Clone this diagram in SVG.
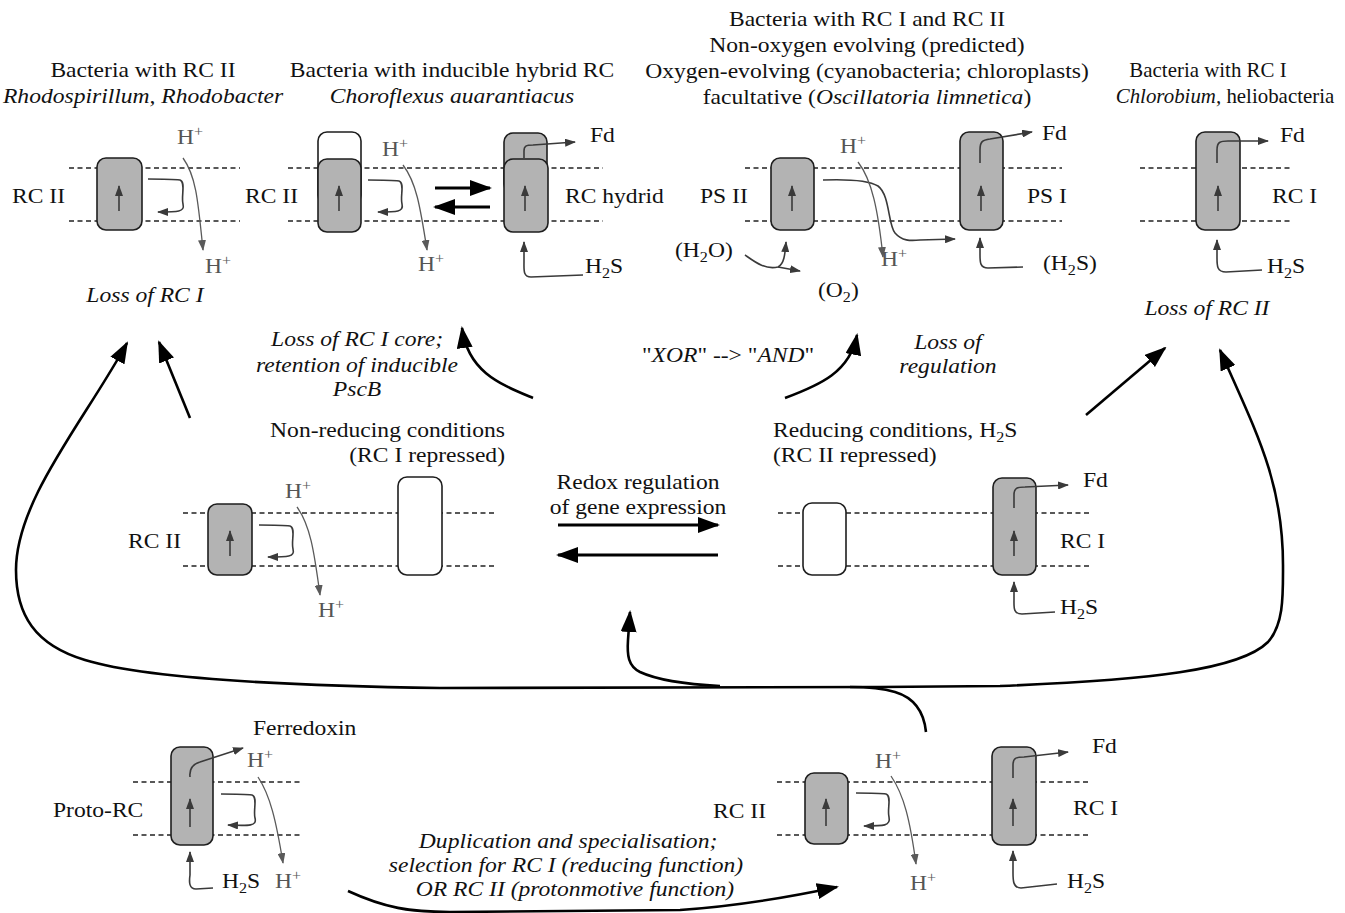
<svg xmlns="http://www.w3.org/2000/svg" width="1345" height="913" viewBox="0 0 1345 913">
<style>
.t{font-family:"Liberation Serif","Times New Roman",serif;font-size:20.5px;fill:#111;transform-box:fill-box;transform:scaleX(1.15);transform-origin:left center}
.m{text-anchor:middle;transform-origin:center}
.e{text-anchor:end;transform-origin:right center}
.n{transform:scaleX(1.02)}
.i{font-style:italic}
.h{fill:#555}
.sup{font-size:14px}
.sub{font-size:14px}
.dash{stroke:#222;stroke-width:1.3;stroke-dasharray:5 3.5;fill:none}
.rc{fill:#b3b3b3;stroke:#1e1e1e;stroke-width:1.6}
.off{fill:#fff;stroke:#1e1e1e;stroke-width:1.6}
.el{fill:none;stroke:#3a3a3a;stroke-width:1.6;marker-end:url(#ea)}
.pr{fill:none;stroke:#5a5a5a;stroke-width:1.3;marker-end:url(#pa)}
.big{fill:none;stroke:#000;stroke-width:2.6;marker-end:url(#ba)}
.ex{fill:none;stroke:#000;stroke-width:3.2;marker-end:url(#ba)}
.ln{fill:none;stroke:#000;stroke-width:2.6}
</style>
<defs>
<marker id="ea" viewBox="0 0 11 8" refX="10" refY="4" markerWidth="11" markerHeight="8" markerUnits="userSpaceOnUse" orient="auto"><path d="M0,0 L11,4 L0,8 z" fill="#3a3a3a"/></marker>
<marker id="pa" viewBox="0 0 11 8" refX="10" refY="4" markerWidth="11" markerHeight="8" markerUnits="userSpaceOnUse" orient="auto"><path d="M0,0 L11,4 L0,8 z" fill="#5a5a5a"/></marker>
<marker id="ba" viewBox="0 0 22 16" refX="20" refY="8" markerWidth="22" markerHeight="16" markerUnits="userSpaceOnUse" orient="auto"><path d="M0,0 L22,8 L0,16 z" fill="#000"/></marker>
</defs>
<rect width="1345" height="913" fill="#fff"/>

<g id="connectors">
<path class="big" d="M880,687 L440,688 C300,686 150,680 85,660 C35,645 16,615 16,570 C16,500 85,420 127,343"/>
<path class="big" d="M880,687 L1000,686 C1150,680 1240,670 1268,642 C1284,624 1283,595 1283,565 C1283,480 1255,430 1220,350"/>
<path class="ln" d="M926,732 C924,712 915,698 895,692 C885,689 870,687 850,687"/>
<path class="big" d="M720,686 C680,684 655,679 640,672 C628,666 627,655 628,640 L630,612"/>
<path class="big" d="M190,418 L159,342"/>
<path class="big" d="M533,398 C500,384 468,372 462,328"/>
<path class="big" d="M785,398 C820,385 850,372 857,335"/>
<path class="big" d="M1086,415 L1165,348"/>
<path class="big" d="M348,891 C385,908 410,912 450,912 L680,910 C740,906 790,897 837,887"/>
<text class="t i m" x="357" y="346">Loss of RC I core;</text>
<text class="t i m" x="357" y="372">retention of inducible</text>
<text class="t i m" x="357" y="396">PscB</text>
<text class="t" x="642" y="362">"<tspan class="i">XOR</tspan>" --&gt; "<tspan class="i">AND</tspan>"</text>
<text class="t i m" x="948" y="349">Loss of</text>
<text class="t i m" x="948" y="373">regulation</text>
<text class="t i m" x="568" y="848">Duplication and specialisation;</text>
<text class="t i m" x="566" y="872">selection for RC I (reducing function)</text>
<text class="t i m" x="575" y="896">OR RC II (protonmotive function)</text>
</g>

<g id="rc2-bacteria">
<text class="t m" x="143" y="77">Bacteria with RC II</text>
<text class="t i m" x="143" y="103">Rhodospirillum, Rhodobacter</text>
<line class="dash" x1="69" y1="168" x2="240" y2="168"/>
<line class="dash" x1="69" y1="221" x2="240" y2="221"/>
<rect class="rc" x="97" y="158" width="45" height="72" rx="9"/>
<path class="el" d="M119,211 V186"/>
<path class="el" d="M148,179 C162,179 172,179 180,180 C186,182 181,196 183,204 C185,212 178,212 158,212"/>
<text class="t h" x="177" y="144">H<tspan class="sup" dy="-8">+</tspan></text>
<path class="pr" d="M183,158 C196,176 198,200 203,250"/>
<text class="t h" x="205" y="273">H<tspan class="sup" dy="-8">+</tspan></text>
<text class="t" x="12" y="203">RC II</text>
<text class="t i m" x="145" y="302">Loss of RC I</text>
</g>

<g id="hybrid-bacteria">
<text class="t m" x="452" y="77">Bacteria with inducible hybrid RC</text>
<text class="t i m" x="452" y="103">Choroflexus auarantiacus</text>
<line class="dash" x1="288" y1="168" x2="603" y2="168"/>
<line class="dash" x1="288" y1="221" x2="603" y2="221"/>
<rect class="off" x="318" y="132" width="43" height="72" rx="9"/>
<rect class="rc" x="318" y="159" width="43" height="73" rx="9"/>
<path class="el" d="M339,211 V186"/>
<path class="el" d="M368,180 C382,180 392,180 399,181 C405,183 400,196 402,204 C404,212 397,212 378,212"/>
<text class="t h" x="382" y="156">H<tspan class="sup" dy="-8">+</tspan></text>
<path class="pr" d="M403,165 C416,182 420,205 427,250"/>
<text class="t h" x="418" y="271">H<tspan class="sup" dy="-8">+</tspan></text>
<text class="t" x="245" y="203">RC II</text>
<path class="ex" d="M435,188 L490,188"/>
<path class="ex" d="M490,207 L435,207"/>
<rect class="rc" x="504" y="133" width="43" height="60" rx="9"/>
<rect class="rc" x="504" y="159" width="44" height="73" rx="9"/>
<path class="el" d="M525,211 V186"/>
<path class="el" d="M524,158 V151 C524,146 526,145 533,145 L575,142"/>
<text class="t" x="590" y="142">Fd</text>
<text class="t" x="565" y="203">RC hydrid</text>
<path class="el" d="M583,275 L531,277 C523,277 524,270 524,262 L524,242"/>
<text class="t" x="585" y="273">H<tspan class="sub" dy="5">2</tspan><tspan dy="-5">S</tspan></text>
</g>

<g id="rc1-rc2-bacteria">
<text class="t m" x="867" y="26">Bacteria with RC I and RC II</text>
<text class="t m" x="867" y="52">Non-oxygen evolving (predicted)</text>
<text class="t m" x="867" y="78">Oxygen-evolving (cyanobacteria; chloroplasts)</text>
<text class="t m" x="867" y="104">facultative (<tspan class="i">Oscillatoria limnetica</tspan>)</text>
<line class="dash" x1="745" y1="168" x2="1062" y2="168"/>
<line class="dash" x1="745" y1="221" x2="1062" y2="221"/>
<rect class="rc" x="771" y="158" width="43" height="72" rx="9"/>
<path class="el" d="M792,211 V186"/>
<text class="t" x="700" y="203">PS II</text>
<text class="t h" x="840" y="153">H<tspan class="sup" dy="-8">+</tspan></text>
<path class="el" d="M823,180 C850,179 868,180 878,186 C890,195 888,225 895,233 C902,241 910,241 920,240 L955,239"/>
<path class="pr" d="M858,162 C872,180 878,210 883,257"/>
<text class="t h" x="881" y="266">H<tspan class="sup" dy="-8">+</tspan></text>
<rect class="rc" x="960" y="132" width="43" height="98" rx="9"/>
<path class="el" d="M981,211 V186"/>
<path class="el" d="M980,163 V150 C980,142 982,140 990,139 L1032,132"/>
<text class="t" x="1042" y="140">Fd</text>
<text class="t" x="1027" y="203">PS I</text>
<path class="el" d="M1023,267 L988,268 C980,268 980,262 980,255 L980,238"/>
<text class="t" x="1043" y="270">(H<tspan class="sub" dy="5">2</tspan><tspan dy="-5">S)</tspan></text>
<text class="t" x="675" y="257">(H<tspan class="sub" dy="5">2</tspan><tspan dy="-5">O)</tspan></text>
<path class="el" d="M745,255 C755,262 765,270 778,267 C784,264 785,255 786,242"/>
<path class="el" d="M778,267 L800,271"/>
<text class="t" x="818" y="297">(O<tspan class="sub" dy="5">2</tspan><tspan dy="-5">)</tspan></text>
</g>

<g id="rc1-bacteria">
<text class="t m n" x="1208" y="77">Bacteria with RC I</text>
<text class="t m n" x="1225" y="103"><tspan class="i">Chlorobium,</tspan> heliobacteria</text>
<line class="dash" x1="1140" y1="168" x2="1293" y2="168"/>
<line class="dash" x1="1140" y1="221" x2="1293" y2="221"/>
<rect class="rc" x="1196" y="132" width="44" height="98" rx="9"/>
<path class="el" d="M1218,211 V186"/>
<path class="el" d="M1217,163 V150 C1217,142 1220,141 1228,141 L1268,141"/>
<text class="t" x="1280" y="142">Fd</text>
<text class="t" x="1272" y="203">RC I</text>
<path class="el" d="M1262,270 L1226,272 C1217,272 1217,266 1217,258 L1217,240"/>
<text class="t" x="1267" y="273">H<tspan class="sub" dy="5">2</tspan><tspan dy="-5">S</tspan></text>
<text class="t i m" x="1207" y="315">Loss of RC II</text>
</g>

<g id="non-reducing">
<text class="t e" x="505" y="437">Non-reducing conditions</text>
<text class="t e" x="505" y="462">(RC I repressed)</text>
<line class="dash" x1="183" y1="513" x2="495" y2="513"/>
<line class="dash" x1="183" y1="566" x2="495" y2="566"/>
<rect class="rc" x="208" y="504" width="44" height="71" rx="9"/>
<path class="el" d="M230,556 V531"/>
<path class="el" d="M259,525 C273,525 283,525 290,526 C296,528 291,541 293,549 C295,557 288,557 268,557"/>
<text class="t h" x="285" y="498">H<tspan class="sup" dy="-8">+</tspan></text>
<path class="pr" d="M297,507 C310,525 314,550 320,595"/>
<text class="t h" x="318" y="617">H<tspan class="sup" dy="-8">+</tspan></text>
<text class="t" x="128" y="548">RC II</text>
<rect class="off" x="398" y="477" width="44" height="98" rx="9"/>
</g>

<g id="redox">
<text class="t m" x="638" y="489">Redox regulation</text>
<text class="t m" x="638" y="514">of gene expression</text>
<path class="ex" d="M558,525 L718,525"/>
<path class="ex" d="M718,555 L558,555"/>
</g>

<g id="reducing">
<text class="t" x="773" y="437">Reducing conditions, H<tspan class="sub" dy="5">2</tspan><tspan dy="-5">S</tspan></text>
<text class="t" x="773" y="462">(RC II repressed)</text>
<line class="dash" x1="778" y1="513" x2="1092" y2="513"/>
<line class="dash" x1="778" y1="566" x2="1092" y2="566"/>
<rect class="off" x="803" y="503" width="43" height="72" rx="9"/>
<rect class="rc" x="993" y="478" width="43" height="97" rx="9"/>
<path class="el" d="M1014,556 V531"/>
<path class="el" d="M1014,508 V495 C1014,488 1017,487 1025,487 L1068,485"/>
<text class="t" x="1083" y="487">Fd</text>
<text class="t" x="1060" y="548">RC I</text>
<path class="el" d="M1055,612 L1022,614 C1013,614 1014,607 1014,600 L1014,582"/>
<text class="t" x="1060" y="614">H<tspan class="sub" dy="5">2</tspan><tspan dy="-5">S</tspan></text>
</g>

<g id="proto-rc">
<text class="t" x="253" y="735">Ferredoxin</text>
<line class="dash" x1="133" y1="782" x2="302" y2="782"/>
<line class="dash" x1="133" y1="835" x2="302" y2="835"/>
<rect class="rc" x="171" y="747" width="42" height="98" rx="9"/>
<path class="el" d="M190,827 V799"/>
<path class="el" d="M190,777 C189,768 193,764 200,762 L243,748"/>
<text class="t h" x="247" y="767">H<tspan class="sup" dy="-8">+</tspan></text>
<path class="pr" d="M258,777 C270,795 276,820 283,863"/>
<path class="el" d="M221,794 C235,794 245,794 252,795 C258,797 253,810 255,818 C257,826 250,826 228,825"/>
<text class="t" x="53" y="817">Proto-RC</text>
<path class="el" d="M213,888 L196,889 C189,889 189,882 190,875 L190,852"/>
<text class="t" x="222" y="888">H<tspan class="sub" dy="5">2</tspan><tspan dy="-5">S</tspan></text>
<text class="t h" x="275" y="888">H<tspan class="sup" dy="-8">+</tspan></text>
</g>

<g id="duplicated-rc">
<text class="t" x="713" y="818">RC II</text>
<line class="dash" x1="777" y1="782" x2="1090" y2="782"/>
<line class="dash" x1="777" y1="835" x2="1090" y2="835"/>
<rect class="rc" x="805" y="773" width="43" height="71" rx="9"/>
<path class="el" d="M826,826 V799"/>
<path class="el" d="M856,793 C870,793 880,793 886,794 C892,796 887,809 889,817 C891,826 884,826 864,826"/>
<text class="t h" x="875" y="768">H<tspan class="sup" dy="-8">+</tspan></text>
<path class="pr" d="M891,776 C904,795 910,820 916,864"/>
<text class="t h" x="910" y="890">H<tspan class="sup" dy="-8">+</tspan></text>
<rect class="rc" x="992" y="747" width="44" height="98" rx="9"/>
<path class="el" d="M1013,826 V799"/>
<path class="el" d="M1013,778 V765 C1013,758 1016,757 1024,757 L1068,752"/>
<text class="t" x="1092" y="753">Fd</text>
<text class="t" x="1073" y="815">RC I</text>
<path class="el" d="M1057,884 L1021,888 C1013,888 1013,880 1013,873 L1013,851"/>
<text class="t" x="1067" y="888">H<tspan class="sub" dy="5">2</tspan><tspan dy="-5">S</tspan></text>
</g>
</svg>
